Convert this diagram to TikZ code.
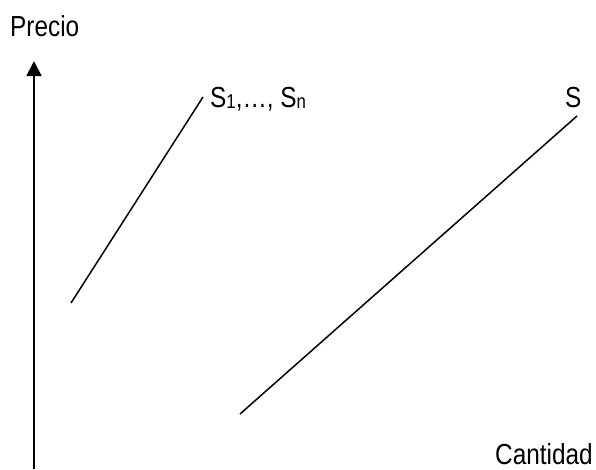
\documentclass[tikz,border=0pt]{standalone}
\usepackage{fontspec}
\setmainfont{Liberation Sans}[FakeStretch=0.84]
\usetikzlibrary{arrows.meta}
\tikzset{
  lbl/.style={anchor=base west, inner sep=0pt, font=\fontsize{29}{32}\selectfont},
  curve/.style={line width=1.5pt, black},
  axis/.style={line width=1.8pt, black, -{Triangle[width=15pt,length=15pt]}}
}
\newcommand{\sbs}[1]{\raisebox{-1pt}{\fontsize{20}{21}\selectfont #1}}
\begin{document}
\begin{tikzpicture}[x=1pt,y=-1pt]
\useasboundingbox (0,0) rectangle (596,469);
\coordinate (a0) at (34,469);
\coordinate (a1) at (34,61);
\draw[axis] (a0) -- (a1);
\coordinate (p1) at (71,303);
\coordinate (p2) at (203,97);
\draw[curve] (p1) -- (p2);
\coordinate (q1) at (240,414);
\coordinate (q2) at (577,116);
\draw[curve] (q1) -- (q2);
\node[lbl] (precio) at (10,36) {Precio};
\node[lbl] (sn) at (210,107) {S\sbs{1},…, S\sbs{n}};
\node[lbl] (s) at (565,107) {S};
\node[lbl] (cant) at (495,464) {Cantidad};
\end{tikzpicture}
\end{document}
